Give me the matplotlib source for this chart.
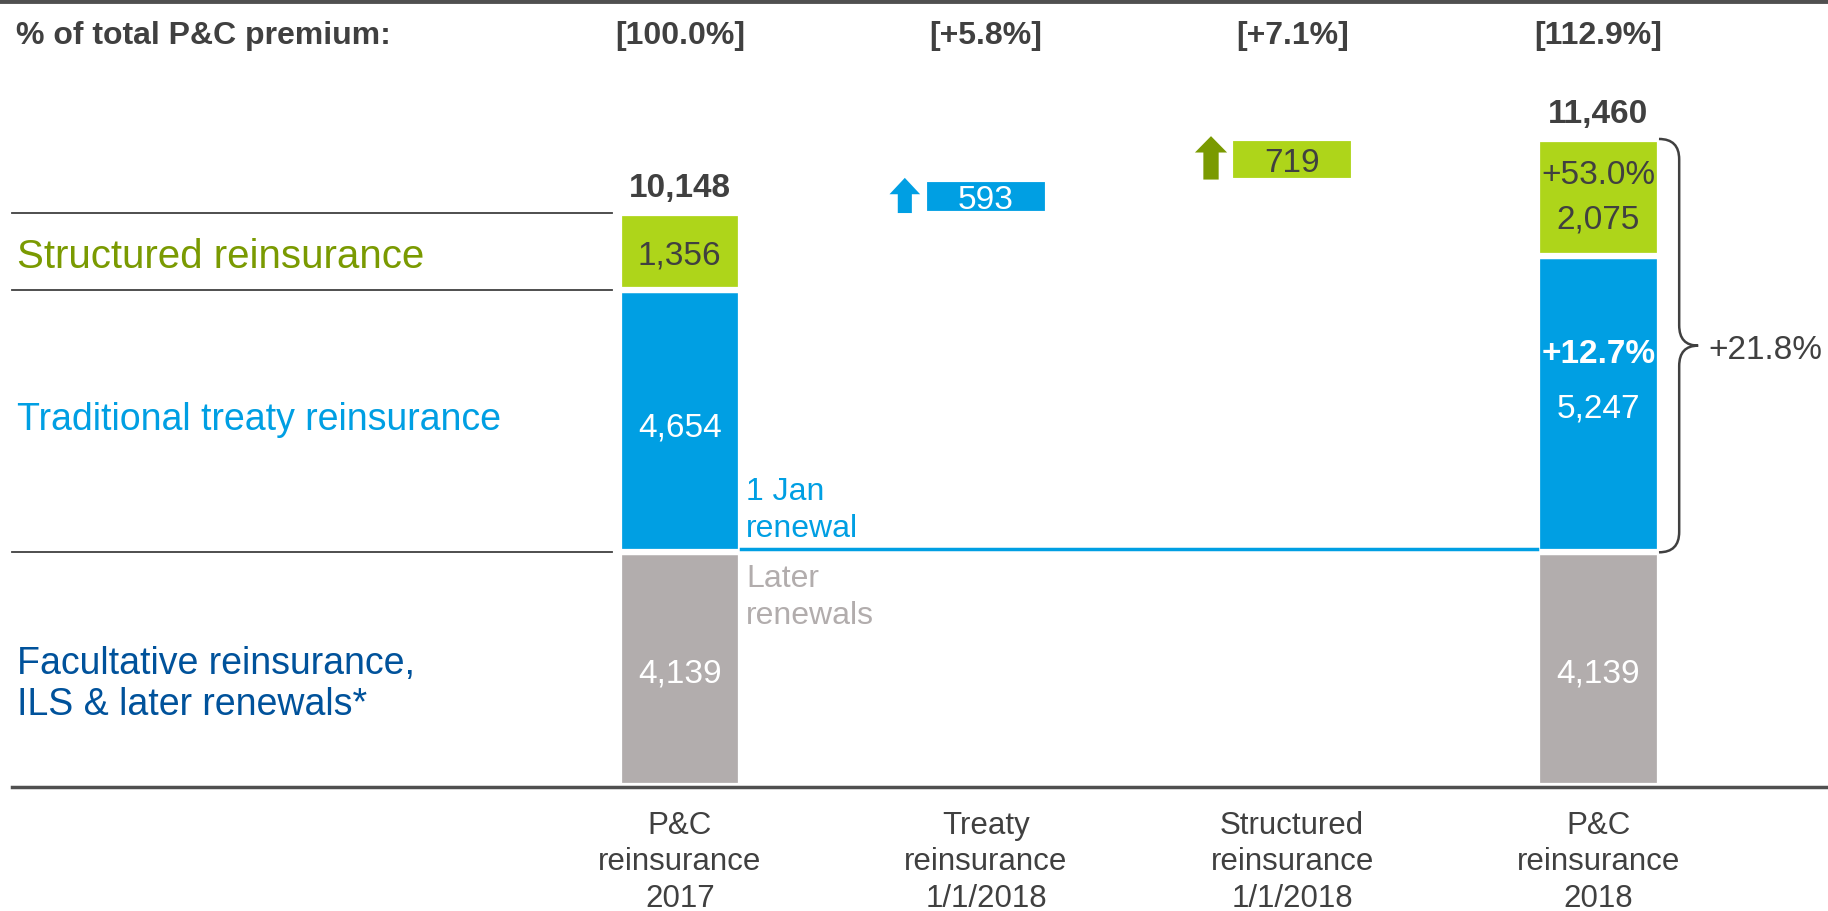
import matplotlib.pyplot as plt
from matplotlib.path import Path
from matplotlib.patches import PathPatch

plt.rcParams['font.family'] = ['Liberation Sans', 'DejaVu Sans']

# данные
categories = ['P&C\nreinsurance\n2017', 'Treaty\nreinsurance\n1/1/2018',
              'Structured\nreinsurance\n1/1/2018', 'P&C\nreinsurance\n2018']
shares = ['[100.0%]', '[+5.8%]', '[+7.1%]', '[112.9%]']
fac_2017, treaty_2017, struct_2017 = 4139, 4654, 1356
treaty_delta, struct_delta = 593, 719
fac_2018, treaty_2018, struct_2018 = 4139, 5247, 2075
total_2017, total_2018 = 10148, 11460
treaty_growth, struct_growth, total_growth = '+12.7%', '+53.0%', '+21.8%'

green = '#aed51a'
olive = '#7a9a01'
blue = '#009fe3'
navy = '#00529b'
grey = '#b2adad'
dark = '#404040'

fig = plt.figure(figsize=(18.28, 9.12), dpi=100)
ax = fig.add_axes([0, 0, 1, 1])
ax.set_xlim(-2.22, 3.75)
ax.set_ylim(-2214, 13939)
ax.axis('off')

w = 0.40
x = [0, 1, 2, 3]
kw = dict(width=w, edgecolor='white', linewidth=4.5)
dy = 62  # небольшой сдвиг текста вниз


def label(xi, yi, s, dx=0, oy=0, **k):
    ax.annotate(s, (xi, yi), xytext=(dx, oy - 2.5), textcoords='offset points', va='center', **k)


# столбцы 2017 и 2018
ax.bar(x[0], fac_2017, color=grey, **kw)
ax.bar(x[0], treaty_2017, bottom=fac_2017, color=blue, **kw)
ax.bar(x[0], struct_2017, bottom=fac_2017 + treaty_2017, color=green, **kw)
ax.bar(x[3], fac_2018, color=grey, **kw)
ax.bar(x[3], treaty_2018, bottom=fac_2018, color=blue, **kw)
ax.bar(x[3], struct_2018, bottom=fac_2018 + treaty_2018, color=green, **kw)

# приросты
b1 = total_2017
b2 = total_2017 + treaty_delta
ax.bar(x[1], treaty_delta, bottom=b1, color=blue, width=w, edgecolor='white', linewidth=3)
ax.bar(x[2], struct_delta, bottom=b2, color=green, width=w, edgecolor='white', linewidth=3)
ax.arrow(x[1] - 0.265, b1, 0, treaty_delta + 30, width=0.046, head_width=0.1,
         head_length=290, length_includes_head=True, color=blue, lw=0)
ax.arrow(x[2] - 0.265, b2, 0, struct_delta + 50, width=0.05, head_width=0.105,
         head_length=290, length_includes_head=True, color=olive, lw=0)

fs = 24
label(x[0], fac_2017 / 2, f'{fac_2017:,}', color='white', fontsize=fs, ha='center')
label(x[0], fac_2017 + treaty_2017 / 2, f'{treaty_2017:,}', oy=-2, color='white', fontsize=fs, ha='center')
label(x[0], fac_2017 + treaty_2017 + struct_2017 / 2, f'{struct_2017:,}', color=dark, fontsize=fs, ha='center')
label(x[3], fac_2018 / 2, f'{fac_2018:,}', color='white', fontsize=fs, ha='center')
label(x[3], fac_2018 + treaty_2018 / 2, f'{treaty_2018:,}', color='white', fontsize=fs, ha='center')
label(x[3], fac_2018 + treaty_2018 / 2, treaty_growth, oy=39, color='white', fontsize=fs,
      fontweight='bold', ha='center')
c = fac_2018 + treaty_2018 + struct_2018 / 2
label(x[3], c, struct_growth, oy=19, color=dark, fontsize=fs, ha='center')
label(x[3], c, f'{struct_2018:,}', oy=-13, color=dark, fontsize=fs, ha='center')
label(x[1], b1 + treaty_delta / 2, f'{treaty_delta}', color='white', fontsize=fs, ha='center')
label(x[2], b2 + struct_delta / 2, f'{struct_delta}', color=dark, fontsize=fs, ha='center')

# итоги
label(x[0], total_2017, f'{total_2017:,}', oy=21, color=dark, fontsize=fs, fontweight='bold', ha='center')
label(x[3], total_2018, f'{total_2018:,}', oy=21, color=dark, fontsize=fs, fontweight='bold', ha='center')

# линия 1 января
ax.plot([x[0] + w / 2, x[3] - w / 2], [fac_2017 + 55, fac_2017 + 55], color=blue, lw=2.5)
ax.text(x[0] + 0.217, fac_2017 + 820 - dy, '1 Jan\nrenewal', color=blue, fontsize=23, ha='left',
        va='center', linespacing=1.27)
ax.text(x[0] + 0.217, fac_2017 - 720 - dy, 'Later\nrenewals', color=grey, fontsize=23, ha='left',
        va='center', linespacing=1.27)

# подписи слева
for y in [fac_2017, fac_2017 + treaty_2017, total_2017]:
    ax.plot([-2.18, x[0] - w / 2 - 0.02], [y, y], color=dark, lw=1.3)
ax.text(-2.165, fac_2017 + treaty_2017 + struct_2017 / 2 - 30 - dy, 'Structured reinsurance',
        color=olive, fontsize=29, ha='left', va='center')
ax.text(-2.165, fac_2017 + treaty_2017 / 2 + 90 - dy, 'Traditional treaty reinsurance',
        color=blue, fontsize=27, ha='left', va='center')
ax.text(-2.165, fac_2017 / 2 - 150 - dy - 40, 'Facultative reinsurance,\nILS & later renewals*',
        color=navy, fontsize=27, ha='left', va='center', linespacing=1.2)

# фигурная скобка
top, bot = total_2018, fac_2018
mid = (top + bot) / 2
x0, xv, xt = 3.198, 3.264, 3.326
r = 360
verts = [(x0, top), (xv, top), (xv, top - r),
         (xv, mid + r), (xv, mid), (xt, mid),
         (xv, mid), (xv, mid - r),
         (xv, bot + r), (xv, bot), (x0, bot)]
codes = [Path.MOVETO, Path.CURVE3, Path.CURVE3,
         Path.LINETO, Path.CURVE3, Path.CURVE3,
         Path.CURVE3, Path.CURVE3,
         Path.LINETO, Path.CURVE3, Path.CURVE3]
ax.add_patch(PathPatch(Path(verts, codes), fill=False, edgecolor=dark, lw=1.8))
ax.text(3.36, mid - dy, total_growth, color=dark, fontsize=fs, ha='left', va='center')

# шапка и оси
ax.axhline(13905, xmin=0, xmax=1, color='#505050', lw=3.5)
ax.plot([-2.18, 3.75], [-20, -20], color='#505050', lw=2.5)
ax.text(-2.168, 13355 - dy, '% of total P&C premium:', color=dark, fontsize=23,
        fontweight='bold', ha='left', va='center')
for xi, s in zip(x, shares):
    ax.text(xi, 13355 - dy, s, color=dark, fontsize=23, fontweight='bold', ha='center', va='center')
for xi, s in zip(x, categories):
    ax.text(xi, -1330, s, color=dark, fontsize=22.5, ha='center', va='center', linespacing=1.28)

plt.savefig('out.png', dpi=100)
